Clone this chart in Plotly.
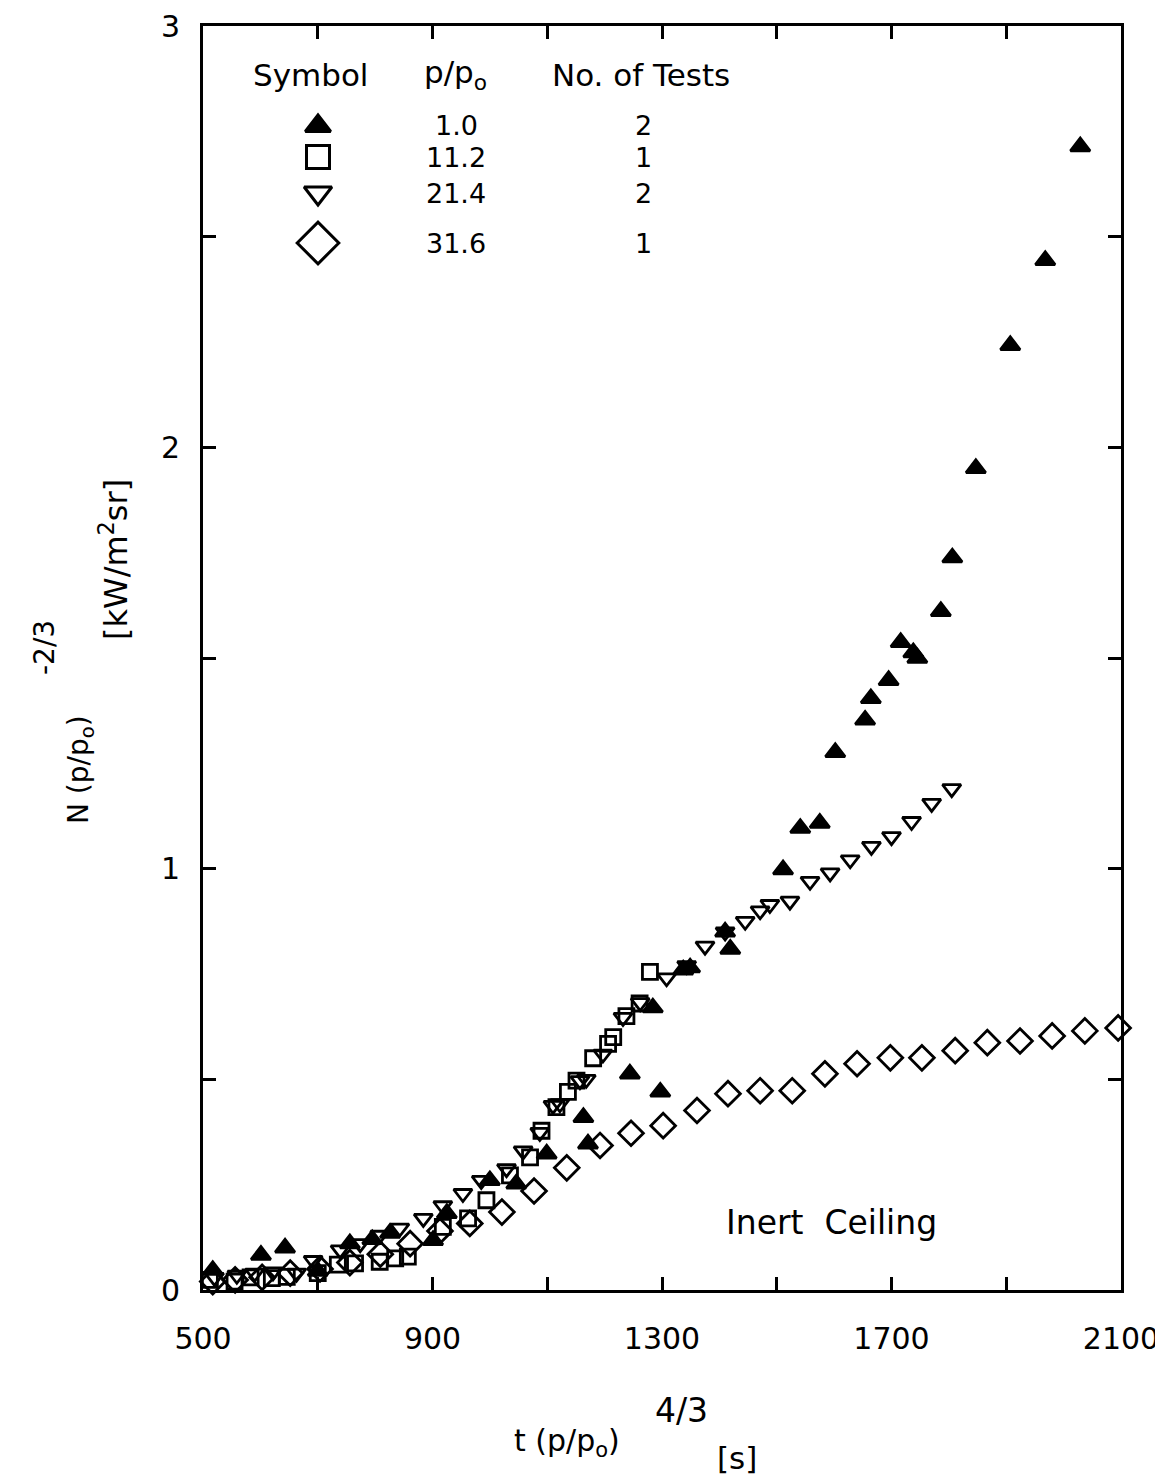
import plotly.graph_objects as go

# ---------------- data ----------------
# p/po = 1.0  (filled up-triangles)
tri_x = [517, 601, 643, 700, 756, 795, 826, 901, 925, 1000, 1046, 1099, 1163, 1171,
         1244, 1284, 1297, 1337, 1349, 1410, 1419, 1511, 1541, 1575, 1602, 1654,
         1664, 1695, 1716, 1738, 1745, 1786, 1806, 1847, 1907, 1968, 2029]
tri_y = [0.047, 0.083, 0.100, 0.045, 0.110, 0.120, 0.135, 0.118, 0.182, 0.260, 0.252,
         0.323, 0.410, 0.347, 0.513, 0.670, 0.470, 0.760, 0.765, 0.850, 0.809, 0.998,
         1.096, 1.108, 1.276, 1.353, 1.404, 1.447, 1.537, 1.513, 1.500, 1.611, 1.738,
         1.950, 2.242, 2.444, 2.714]

# p/po = 11.2  (open squares)
sq_x = [512, 555, 583, 620, 646, 700, 735, 765, 808, 835, 857, 918, 962, 994, 1035,
        1070, 1090, 1116, 1136, 1151, 1180, 1206, 1215, 1238, 1261, 1279]
sq_y = [0.024, 0.020, 0.030, 0.028, 0.031, 0.040, 0.060, 0.063, 0.067, 0.075, 0.079,
        0.150, 0.170, 0.213, 0.272, 0.315, 0.378, 0.434, 0.470, 0.497, 0.550, 0.584,
        0.600, 0.650, 0.680, 0.755]

# p/po = 21.4  (open down-triangles)
dn_x = [520, 559, 590, 622, 663, 692, 739, 774, 808, 843, 884, 918, 953, 985, 1029,
        1058, 1087, 1110, 1122, 1157, 1168, 1197, 1232, 1262, 1308, 1343, 1375, 1410,
        1445, 1471, 1488, 1523, 1558, 1593, 1628, 1665, 1700, 1735, 1770, 1805]
dn_y = [0.030, 0.035, 0.040, 0.043, 0.040, 0.070, 0.095, 0.110, 0.130, 0.147, 0.170,
        0.200, 0.229, 0.260, 0.288, 0.330, 0.374, 0.438, 0.442, 0.497, 0.500, 0.560,
        0.647, 0.682, 0.741, 0.770, 0.816, 0.850, 0.875, 0.900, 0.915, 0.923, 0.970,
        0.990, 1.021, 1.053, 1.076, 1.112, 1.155, 1.190]

# p/po = 31.6  (open diamonds)
dia_x = [517, 556, 603, 652, 704, 756, 809, 861, 913, 965, 1021, 1077, 1134, 1192,
         1246, 1302, 1361, 1415, 1471, 1527, 1584, 1640, 1698, 1753, 1811, 1867, 1924,
         1980, 2037, 2095]
dia_y = [0.020, 0.024, 0.030, 0.040, 0.050, 0.065, 0.085, 0.110, 0.140, 0.158, 0.185,
         0.235, 0.290, 0.343, 0.372, 0.390, 0.426, 0.466, 0.473, 0.473, 0.513, 0.537,
         0.551, 0.551, 0.568, 0.587, 0.591, 0.603, 0.615, 0.622]

# axis ticks
x_tickvals = [500, 900, 1300, 1700, 2100]
x_minorvals = [700, 1100, 1500, 1900]
y_tickvals = [0, 1, 2, 3]
y_minorvals = [0.5, 1.5, 2.5]

# legend table
leg_ratio = ["1.0", "11.2", "21.4", "31.6"]
leg_tests = ["2", "1", "2", "1"]
leg_symbols = ["triangle-up", "square-open", "triangle-down-open", "diamond-open"]
leg_sizes = [22, 23, 24, 32]

FONT = "DejaVu Sans"
OFF = 8                       # page body margin
W, H = 1163 - OFF, 1477 - OFF
L = 203 - OFF
T = 26 - OFF
R = W - (1121 - OFF)
B = H - (1290 - OFF)

def px(rx):
    return (rx - OFF - L) / (W - L - R)
def py(ry):
    return 1 - (ry - OFF - T) / (H - T - B)

fig = go.Figure()

def add_series(xs, ys, symbol, size):
    fig.add_trace(go.Scatter(
        x=xs, y=ys, mode="markers", cliponaxis=False, showlegend=False,
        marker=dict(symbol=symbol, size=size, color="black",
                    line=dict(width=2.8, color="black"))))

add_series(tri_x, tri_y, "triangle-up", 17)
add_series(sq_x, sq_y, "square-open", 15)
add_series(dn_x, dn_y, "triangle-down-open", 16)
add_series(dia_x, dia_y, "diamond-open", 19)

# legend markers on an overlay axis spanning the plot area
leg_rows_y = [126, 157, 193, 243]     # pixel rows
for sym, sz, ry in zip(leg_symbols, leg_sizes, leg_rows_y):
    fig.add_trace(go.Scatter(
        x=[px(318)], y=[py(ry)], xaxis="x2", yaxis="y2", mode="markers",
        showlegend=False, cliponaxis=False,
        marker=dict(symbol=sym, size=sz, color="black",
                    line=dict(width=3, color="black"))))

ann = []
def text(x, y, s, size=30, **kw):
    ann.append(dict(x=px(x), y=py(y), xref="paper", yref="paper", text=s,
                    showarrow=False, xanchor="center", yanchor="middle",
                    font=dict(family=FONT, size=size, color="black"), **kw))

# header
text(310, 75, "Symbol", size=31)
text(455, 75, "p/p<sub>o</sub>", size=31)
text(641, 75, "No. of Tests", size=31)
for r, n, ry in zip(leg_ratio, leg_tests, leg_rows_y):
    text(456, ry, r, size=27)
    text(643, ry, n, size=27)

# inert ceiling
text(831, 1222, "Inert  Ceiling", size=33)

# x-axis title
text(567, 1442, "t (p/p<sub>o</sub>)", size=30)
text(681, 1410, "4/3", size=33)
text(737, 1458, "[s]", size=31)

# y-axis title (rotated)
text(80, 770, "N (p/p<sub>o</sub>)", size=28, textangle=-90)
text(44, 648, "-2/3", size=28, textangle=-90)
text(114, 560, "[kW/m<sup>2</sup>sr]", size=32, textangle=-90)

axis_common = dict(showgrid=False, zeroline=False, showline=True, linewidth=3,
                   linecolor="black", mirror="allticks", ticks="inside",
                   ticklen=13, tickwidth=2.5, tickcolor="black", automargin=False,
                   ticklabeloverflow="allow",
                   tickfont=dict(family=FONT, size=30, color="black"))

fig.update_layout(
    width=W, height=H,
    margin=dict(l=L, r=R, t=T, b=B, autoexpand=False),
    paper_bgcolor="white", plot_bgcolor="white",
    xaxis=dict(range=[500, 2100], tickmode="array", tickvals=x_tickvals,
               ticklabelstandoff=20,
               minor=dict(tickmode="array", tickvals=x_minorvals, ticks="inside",
                          ticklen=13, tickwidth=2.5, tickcolor="black", showgrid=False),
               **axis_common),
    yaxis=dict(range=[0, 3], tickmode="array", tickvals=y_tickvals,
               ticklabelstandoff=14,
               minor=dict(tickmode="array", tickvals=y_minorvals, ticks="inside",
                          ticklen=13, tickwidth=2.5, tickcolor="black", showgrid=False),
               **axis_common),
    xaxis2=dict(range=[0, 1], overlaying="x", visible=False),
    yaxis2=dict(range=[0, 1], overlaying="y", visible=False),
    annotations=ann,
    showlegend=False,
)

fig.write_html("out.html")
